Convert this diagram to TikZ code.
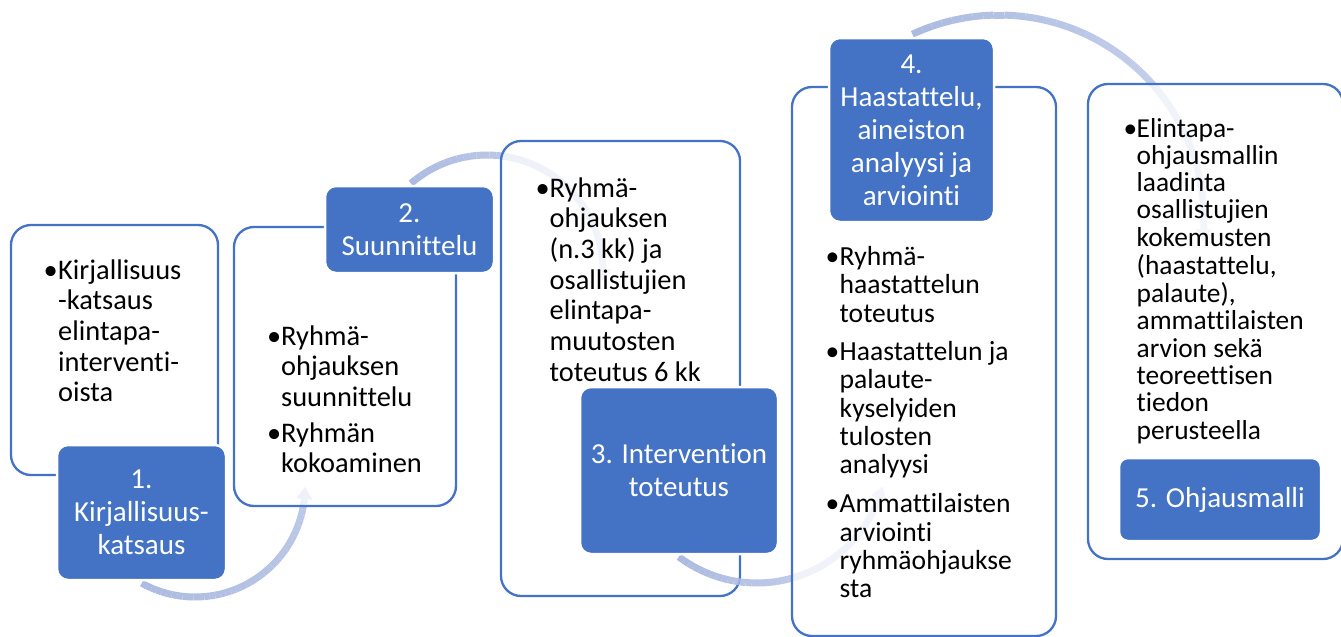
\documentclass[tikz,border=0pt]{standalone}
\usepackage{fontspec}
\setmainfont[Ligatures={NoCommon}]{Carlito}
\definecolor{dkblue}{RGB}{68,114,196}
\definecolor{arcblue}{RGB}{172,187,225}
\newcommand\fA{\fontsize{28.4}{30.7}\selectfont}
\newcommand\fB{\fontsize{27.6}{28.3}\selectfont}
\newcommand\fC{\fontsize{27.4}{27.3}\selectfont}
\newcommand\fD{\fontsize{29}{33}\selectfont}
\newcommand\bu[1][12pt]{\makebox[#1][l]{•}}
\newcommand\fadearc[6]{%
  \pgfmathsetmacro\fdir{(#5>#4)?1:-1}%
  \pgfmathsetmacro\fab{#5-(\fdir)*12/#3*180/pi}%
  \foreach \k in {0,...,39}{%
    \pgfmathsetmacro\fa{#4+(\fab-#4)*\k/40}%
    \pgfmathsetmacro\fb{#4+(\fab-#4)*(\k+1)/40}%
    \pgfmathsetmacro\fo{1-(1-#6)*\k/40}%
    \draw[arcline, draw opacity=\fo] ({#1+#3*cos(\fa)},{#2-#3*sin(\fa)}) -- ({#1+#3*cos(\fb)},{#2-#3*sin(\fb)});
  }%
  \fill[arcblue, fill opacity=#6] ({#1+(#3-8)*cos(\fab)},{#2-(#3-8)*sin(\fab)}) -- ({#1+(#3+8)*cos(\fab)},{#2-(#3+8)*sin(\fab)}) -- ({#1+#3*cos(#5)},{#2-#3*sin(#5)}) -- cycle;
}
\tikzset{
  outerbox/.style={draw=dkblue, line width=2.3pt, rounded corners=20pt, fill=white, fill opacity=0.75, draw opacity=1, inner sep=0pt, outer sep=0pt},
  darkbox/.style={fill=dkblue, draw=white, line width=2.5pt, rounded corners=11pt, text=white, align=center, inner sep=0pt, outer sep=0pt, font=\fD},
  listtext/.style={anchor=base west, inner sep=0pt, text=black},
  arcline/.style={draw=arcblue, line width=7pt}
}
\begin{document}
\begin{tikzpicture}[x=1pt,y=-1pt]
\useasboundingbox (0,0) rectangle (1341,637);
% outer boxes and arcs (in stacking order)
\node[outerbox, minimum width=207pt, minimum height=250pt] (o1) at (114.5,350) {};
\fadearc{195}{487}{110}{241}{360}{0.8}
\node[outerbox, minimum width=222pt, minimum height=279pt] (o2) at (345,366.5) {};
\fadearc{487}{271}{116}{131}{-5}{0.55}
\node[outerbox, minimum width=239pt, minimum height=455pt] (o3) at (620.5,368.5) {};
\fadearc{757}{453}{130}{233}{345}{0.55}
\node[outerbox, minimum width=264pt, minimum height=549pt] (o4) at (924,361.5) {};
\fadearc{999}{220}{205}{115}{-6}{0.55}
\node[outerbox, minimum width=255pt, minimum height=475pt] (o5) at (1215.5,321.5) {};
% texts
\node[listtext, font=\fA] (t1) at (43.5,279) {\begin{tabular}[t]{@{}l@{}l@{}}
\bu[14.5pt] & Kirjallisuus\\
 & -katsaus\\
 & elintapa-\\
 & interventi-\\
 & oista
\end{tabular}};
\node[listtext, font=\fA] (t2) at (267,345) {\begin{tabular}[t]{@{}l@{}l@{}}
\bu[14pt] & Ryhmä-\\
 & ohjauksen\\
 & suunnittelu\\[5pt]
\bu[14pt] & Ryhmän\\
 & kokoaminen
\end{tabular}};
\node[listtext, font=\fA] (t3) at (535.5,197) {\begin{tabular}[t]{@{}l@{}l@{}}
\bu[14pt] & Ryhmä-\\
 & ohjauksen\\
 & (n.3 kk) ja\\
 & osallistujien\\
 & elintapa-\\
 & muutosten\\
 & toteutus 6 kk
\end{tabular}};
\node[listtext, font=\fB] (t4) at (825.5,265.5) {\begin{tabular}[t]{@{}l@{}l@{}}
\bu[14pt] & Ryhmä-\\
 & haastattelun\\
 & toteutus\\[10pt]
\bu[14pt] & Haastattelun ja\\
 & palaute-\\
 & kyselyiden\\
 & tulosten\\
 & analyysi\\[11pt]
\bu[14pt] & Ammattilaisten\\
 & arviointi\\
 & ryhmäohjaukse\\
 & sta
\end{tabular}};
\node[listtext, font=\fC] (t5) at (1123.5,137) {\begin{tabular}[t]{@{}l@{}l@{}}
\bu[13pt] & Elintapa-\\
 & ohjausmallin\\
 & laadinta\\
 & osallistujien\\
 & kokemusten\\
 & (haastattelu,\\
 & palaute),\\
 & ammattilaisten\\
 & arvion sekä\\
 & teoreettisen\\
 & tiedon\\
 & perusteella
\end{tabular}};
% dark step boxes
\node[darkbox, minimum width=169pt, minimum height=135pt] (d1) at (141.5,512.5) {1.\\Kirjallisuus-\\katsaus};
\node[darkbox, minimum width=169pt, minimum height=87pt] (d2) at (409.5,229.5) {2.\\Suunnittelu};
\node[darkbox, minimum width=198pt, minimum height=167pt] (d3) at (679,470.5) {3. Intervention\\toteutus};
\node[darkbox, minimum width=165pt, minimum height=184pt] (d4) at (911.5,130) {4.\\Haastattelu,\\aineiston\\analyysi ja\\arviointi};
\node[darkbox, rounded corners=9pt, minimum width=202pt, minimum height=83pt] (d5) at (1220,499.5) {5. Ohjausmalli};
\end{tikzpicture}
\end{document}
